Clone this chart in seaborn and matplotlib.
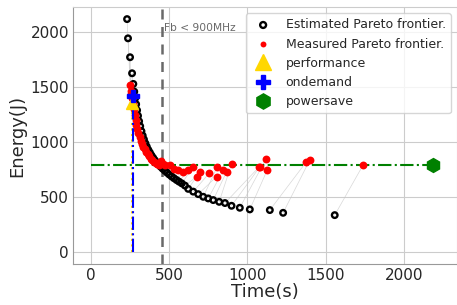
import numpy as np
import pandas as pd
import matplotlib
matplotlib.use("Agg")
import matplotlib.pyplot as plt
import seaborn as sns

# estimated pareto frontier (time s, energy J)
est_time = [230, 236, 249, 262, 270, 276, 282, 288, 294, 300, 307, 314, 322, 330,
            338, 347, 356, 366, 376, 386, 397, 408, 420, 432, 445, 458, 472, 486,
            500, 515, 530, 546, 562, 580, 600, 621, 653, 685, 717, 749, 781, 819,
            856, 898, 951, 1015, 1143, 1228, 1558]
est_energy = [2120, 1945, 1773, 1627, 1530, 1460, 1400, 1345, 1290, 1240, 1190, 1145,
              1100, 1060, 1025, 990, 960, 930, 905, 880, 857, 835, 814, 795, 776, 758,
              740, 722, 705, 688, 672, 656, 641, 625, 605, 575, 550, 527, 503, 488,
              473, 457, 446, 421, 403, 388, 382, 357, 336]

# measured pareto frontier, same configurations
meas_time = [250, 255, 258, 262, 266, 272, 278, 284, 290, 296, 303, 310, 318, 326,
             334, 342, 352, 362, 372, 382, 392, 402, 412, 424, 436, 446, 458, 472,
             504, 530, 558, 590, 621, 653, 675, 696, 754, 802, 807, 845, 866, 898,
             1075, 1079, 1117, 1126, 1377, 1398, 1739]
meas_energy = [1520, 1470, 1440, 1400, 1350, 1300, 1250, 1200, 1160, 1120, 1085, 1050,
               1015, 985, 960, 935, 910, 890, 870, 850, 835, 820, 810, 800, 790, 830,
               805, 790, 791, 760, 745, 730, 745, 775, 686, 730, 715, 686, 775, 745,
               730, 800, 775, 775, 843, 745, 822, 836, 791]

governors = ["performance", "ondemand", "powersave"]
gov_time = [262, 265, 2185]
gov_energy = [1360, 1420, 790]

freq_limit = 453  # Fb < 900MHz boundary

est = pd.DataFrame({"Time": est_time, "Energy": est_energy})
meas = pd.DataFrame({"Time": meas_time, "Energy": meas_energy})

sns.set_style("whitegrid")
fig, ax = plt.subplots(figsize=(4.57, 3.05), dpi=100)
fig.subplots_adjust(left=0.16, right=1.0, top=0.977, bottom=0.134)

for i in range(len(est_time)):
    ax.plot([est_time[i], meas_time[i]], [est_energy[i], meas_energy[i]],
            color="0.78", lw=0.5, alpha=0.7, zorder=1)

sns.scatterplot(data=est, x="Time", y="Energy", ax=ax, marker="o", s=16,
                facecolor="none", edgecolor="black", linewidth=1.7,
                label="Estimated Pareto frontier.", zorder=3)
sns.scatterplot(data=meas, x="Time", y="Energy", ax=ax, marker="o", s=32,
                color="red", edgecolor="red", linewidth=0,
                label="Measured Pareto frontier.", zorder=4)

# governor reference lines
ax.plot([gov_time[0], gov_time[0]], [0, gov_energy[0]], color="gold", ls=":", lw=1.5, zorder=5)
ax.plot([gov_time[1], gov_time[1]], [0, gov_energy[1]], color="blue", ls="-.", lw=1.5, zorder=5)
ax.plot([0, gov_time[2]], [gov_energy[2], gov_energy[2]], color="green", ls="-.", lw=1.5, zorder=2)

ax.plot(gov_time[0], gov_energy[0], marker="^", color="gold", ms=8, ls="none",
        label=governors[0], zorder=6)
ax.plot(gov_time[1], gov_energy[1], marker="P", color="blue", ms=8, ls="none",
        label=governors[1], zorder=6)
ax.plot(gov_time[2], gov_energy[2], marker="h", color="green", ms=10, ls="none",
        label=governors[2], zorder=6)

ax.axvline(freq_limit, color="dimgray", ls="--", lw=1.8, dashes=(4, 3))
ax.text(freq_limit + 15, 2040, "Fb < 900MHz", color="dimgray", fontsize=7.7, va="center")

ax.set_xlim(-115, 2340)
ax.set_ylim(-110, 2230)
ax.set_xticks([0, 500, 1000, 1500, 2000])
ax.set_yticks([0, 500, 1000, 1500, 2000])
ax.tick_params(labelsize=11, pad=3, length=0)
ax.set_xlabel("Time(s)", fontsize=13, labelpad=0)
ax.set_ylabel("Energy(J)", fontsize=13, labelpad=3)
for s in ["left", "bottom"]:
    ax.spines[s].set_color("0.6")

leg = ax.legend(loc="upper right", fontsize=9)
for h in leg.legend_handles[:2]:
    h.set_sizes([18])
leg.legend_handles[2].set_markersize(12)
leg.legend_handles[3].set_markersize(10)
leg.legend_handles[4].set_markersize(11)

fig.savefig("out.png", dpi=100)
